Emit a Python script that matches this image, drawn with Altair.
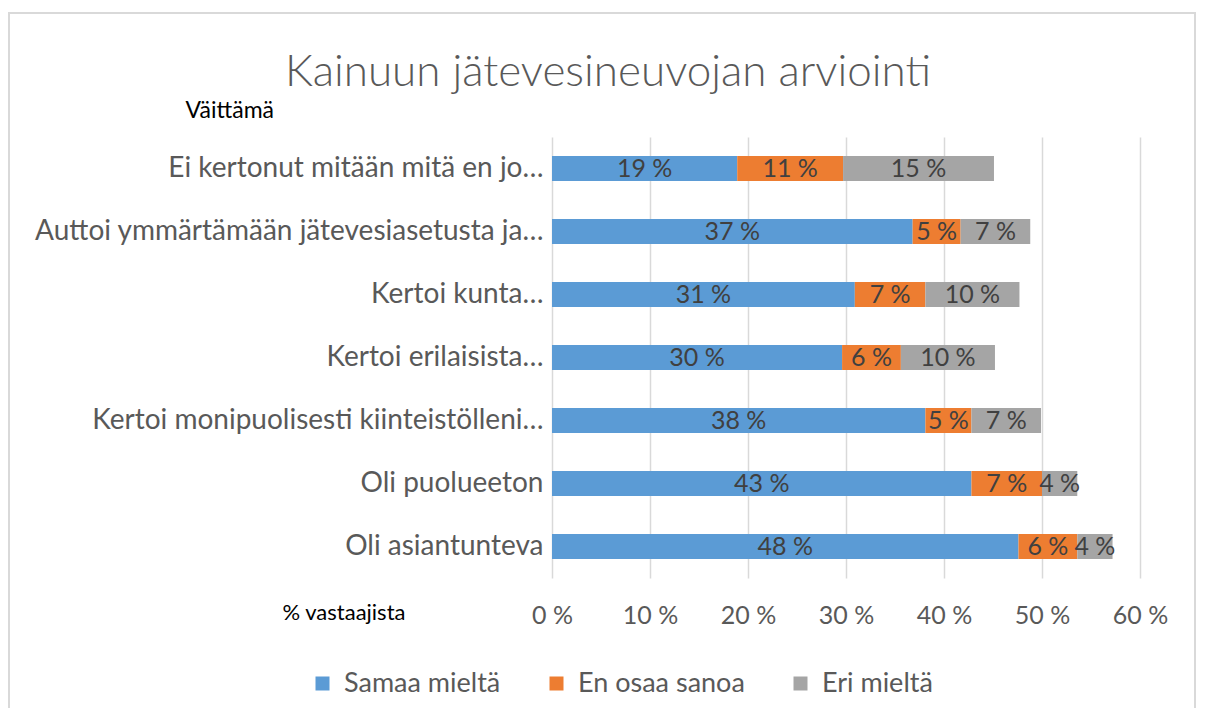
import altair as alt
import pandas as pd

statements = [
    "Ei kertonut mitään mitä en jo…",
    "Auttoi ymmärtämään jätevesiasetusta ja…",
    "Kertoi kunta…",
    "Kertoi erilaisista…",
    "Kertoi monipuolisesti kiinteistölleni…",
    "Oli puolueeton",
    "Oli asiantunteva",
]
series = ["Samaa mieltä", "En osaa sanoa", "Eri mieltä"]
colors = ["#5b9bd5", "#ed7d31", "#a5a5a5"]
samaa = [18.9, 36.8, 30.9, 29.6, 38.1, 42.8, 47.6]
en_osaa = [10.8, 4.9, 7.2, 6.0, 4.7, 7.2, 6.0]
eri = [15.4, 7.1, 9.6, 9.6, 7.1, 3.6, 3.6]
x_ticks = [0, 10, 20, 30, 40, 50, 60]
title_text = "Kainuun jätevesineuvojan arviointi"

rows = []
for i, s in enumerate(statements):
    for j, (name, vals) in enumerate(zip(series, [samaa, en_osaa, eri])):
        rows.append({"statement": s, "series": name, "order": j, "value": vals[i]})
df = pd.DataFrame(rows)

FONT = "Lato"
TXT = "#595959"

base = alt.Chart(df).transform_stack(
    stack="value", groupby=["statement"], as_=["v0", "v1"],
    sort=[alt.SortField("order", order="ascending")]
).transform_calculate(
    mid="(datum.v0 + datum.v1) / 2",
    lbl="format(datum.value, '.0f') + ' %'"
)

y_enc = alt.Y("statement:N", sort=statements,
              scale=alt.Scale(paddingInner=0.6, paddingOuter=0.3),
              axis=alt.Axis(title="Väittämä", titleAngle=0, titleAlign="left",
                            titleBaseline="middle", titleX=-367, titleY=-27,
                            titleFontSize=23, titleFontWeight="normal", titleColor="#000000",
                            titleFont=FONT,
                            labelFontSize=28, labelColor=TXT, labelFont=FONT,
                            labelPadding=9, labelLimit=700,
                            labelExpr="indexof(datum.label, '…') >= 0 ? datum.label : datum.label + '\u00a0\u00a0\u00a0'",
                            domain=False, ticks=False, grid=False))

bars = base.mark_bar().encode(
    x=alt.X("v0:Q", scale=alt.Scale(domain=[0, 60], nice=False),
            axis=alt.Axis(values=x_ticks, labelExpr="datum.value + ' %'",
                          title="% vastaajista", titleX=-270, titleY=34,
                          titleAlign="left", titleBaseline="middle",
                          titleFontSize=22, titleFontWeight="normal", titleColor="#000000",
                          titleFont=FONT,
                          labelFontSize=25, labelColor=TXT, labelFont=FONT,
                          labelFlush=False, labelOverlap=False,
                          labelPadding=25, domain=False, ticks=False,
                          grid=True, gridColor="#d9d9d9", gridWidth=1.5)),
    x2="v1:Q",
    y=y_enc,
    color=alt.Color("series:N", sort=series,
                    scale=alt.Scale(domain=series, range=colors),
                    legend=alt.Legend(title=None, orient="none", direction="horizontal",
                                      legendX=-243, legendY=533, gridAlign="none",
                                      symbolType="square", symbolSize=196,
                                      symbolStrokeWidth=0, labelLimit=400,
                                      labelFontSize=27, labelColor=TXT, labelFont=FONT,
                                      columnPadding=42, labelOffset=8)),
)

labels = base.mark_text(fontSize=25, color="#404040", font=FONT, baseline="middle").encode(
    x="mid:Q",
    y=alt.Y("statement:N", sort=statements),
    text="lbl:N",
)

frame = alt.Chart(alt.Data(values=[{}])).mark_rect(
    fill=None, stroke="#d9d9d9", strokeWidth=2
).encode(
    x=alt.value(-543), x2=alt.value(643), y=alt.value(-124), y2=alt.value(720)
)

title = alt.Chart(alt.Data(values=[{"t": title_text}])).mark_text(
    fontSize=44, font=FONT, fontWeight=300, color=TXT, align="center", baseline="middle"
).encode(
    x=alt.value(56), y=alt.value(-64), text="t:N"
)

chart = alt.layer(frame, title, bars, labels).properties(
    width=588, height=441,
    padding={"left": 544, "top": 129, "right": 56, "bottom": 130},
    autosize=alt.AutoSizeParams(type="none"),
).configure_view(stroke=None)

chart.save("out.html", embed_options={"renderer": "svg", "actions": False})
